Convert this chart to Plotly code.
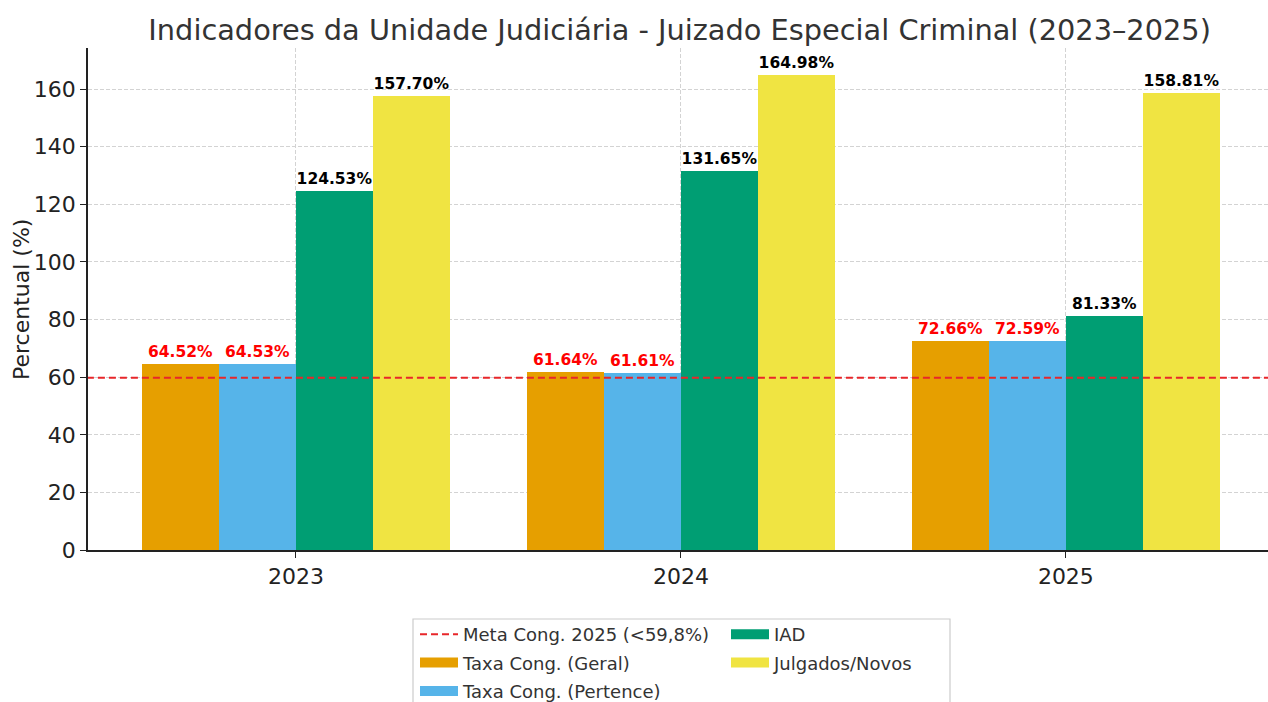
import plotly.graph_objects as go

years = ["2023", "2024", "2025"]
taxa_geral = [64.52, 61.64, 72.66]
taxa_pertence = [64.53, 61.61, 72.59]
iad = [124.53, 131.65, 81.33]
julgados = [157.70, 164.98, 158.81]
meta = 59.8

series = [
    ("Taxa Cong. (Geral)", taxa_geral, "#E69F00", "red", "legend"),
    ("Taxa Cong. (Pertence)", taxa_pertence, "#56B4E9", "red", "legend"),
    ("IAD", iad, "#009E73", "black", "legend2"),
    ("Julgados/Novos", julgados, "#F0E442", "black", "legend2"),
]
offsets = [-0.3, -0.1, 0.1, 0.3]
FONT = "DejaVu Sans"

fig = go.Figure()
xr = [-0.54, 2.525]
fig.add_trace(go.Scatter(
    x=[-1, 3], y=[meta, meta], mode="lines",
    line=dict(color="#e8262a", width=2, dash="7px,4px"),
    name="Meta Cong. 2025 (<59,8%)", legend="legend", legendrank=1,
    legendgroup="g0",
))
xs = list(range(len(years)))
for i, (name, vals, color, tcolor, leg) in enumerate(series):
    fig.add_trace(go.Bar(
        x=[x + offsets[i] for x in xs], y=vals, width=0.2,
        marker=dict(color=color, line=dict(width=0)),
        name=name, showlegend=False,
        text=[f"{v:.2f}%" for v in vals], textposition="outside",
        textfont=dict(family=FONT, size=15.5, color=tcolor, weight="bold"),
        cliponaxis=False,
    ))
    # legend proxy giving a wide rectangular swatch
    fig.add_trace(go.Scatter(
        x=[None], y=[None], mode="lines",
        line=dict(color=color, width=14),
        name=name, legend=leg, legendrank=i + 2, legendgroup=f"g{i+1}",
    ))

def px(xp):
    return (xp - 88) / 1180
def py(yp):
    return (550 - yp) / 502

fig.update_layout(
    width=1268, height=702,
    margin=dict(l=88, r=0, t=48, b=152, autoexpand=False),
    paper_bgcolor="white", plot_bgcolor="white",
    font=dict(family=FONT, color="#333333"),
    title=dict(text="Indicadores da Unidade Judiciária - Juizado Especial Criminal (2023–2025)",
               x=0.536, xanchor="center", y=0.957, yanchor="middle",
               font=dict(size=28.8, color="#333333", family=FONT)),
    barmode="overlay",
    bargap=0,
    xaxis=dict(range=xr, tickmode="array", tickvals=xs, ticktext=years,
               showline=True, linecolor="#222", linewidth=1.6,
               ticks="outside", ticklen=6, tickcolor="#222",
               tickfont=dict(size=22, color="#222"), automargin=False,
               showgrid=True, gridcolor="#d3d3d3", griddash="4px,2px", gridwidth=1,
               zeroline=False),
    yaxis=dict(range=[0, 174.3], tickmode="array", tickvals=list(range(0, 161, 20)),
               showline=True, linecolor="#222", linewidth=1.6,
               ticks="outside", ticklen=6, tickcolor="#222",
               tickfont=dict(size=22, color="#222"), automargin=False,
               showgrid=True, gridcolor="#d3d3d3", griddash="4px,2px", gridwidth=1,
               zeroline=False),
    annotations=[dict(text="Percentual (%)", xref="paper", yref="paper",
                      x=px(21), y=py(300), xanchor="center", yanchor="middle",
                      textangle=-90, showarrow=False,
                      font=dict(size=22, color="#222", family=FONT))],
    legend=dict(x=px(415), y=py(616), xanchor="left", yanchor="top",
                bgcolor="rgba(0,0,0,0)", borderwidth=0, itemwidth=38,
                font=dict(size=18, color="#333", family=FONT), tracegroupgap=2,
                traceorder="grouped"),
    legend2=dict(x=px(726), y=py(616), xanchor="left", yanchor="top",
                 bgcolor="rgba(0,0,0,0)", borderwidth=0, itemwidth=38,
                 font=dict(size=18, color="#333", family=FONT), tracegroupgap=2,
                 traceorder="grouped"),
    shapes=[dict(type="rect", xref="paper", yref="paper",
                 x0=px(413), x1=px(950), y0=py(710), y1=py(619),
                 line=dict(color="#cccccc", width=1.2), fillcolor="rgba(255,255,255,0.8)",
                 layer="below")],
)
fig.write_html("out.html", post_script="document.body.style.margin='0';",
               config={"displayModeBar": False})
